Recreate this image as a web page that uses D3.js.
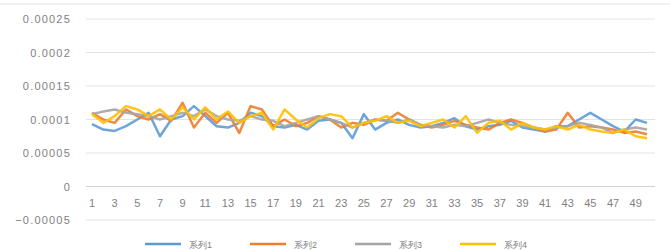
<!DOCTYPE html>
<html>
<head>
<meta charset="utf-8">
<script src="https://cdn.jsdelivr.net/npm/d3@7"></script>
<style>
  body { margin: 0; background: #fff; }
  text { font-family: "Liberation Sans", Arial, sans-serif; fill: #7f7f7f; }
</style>
</head>
<body>
<div id="chart"></div>
<script>
// data
var categories = d3.range(1, 51);
var seriesNames = ["系列1", "系列2", "系列3", "系列4"];
var yTicks = [-0.00005, 0, 0.00005, 0.0001, 0.00015, 0.0002, 0.00025];

var s1 = [0.000093, 0.000085, 0.000083, 0.00009, 0.0001, 0.00011, 0.000075, 0.0001, 0.000105, 0.00012,
          0.000105, 0.00009, 0.000088, 0.000095, 0.00011, 0.000105, 0.00009, 0.000088, 0.000092, 0.000085,
          0.000098, 0.0001, 0.000095, 0.000072, 0.000108, 0.000085, 0.000095, 0.0001, 0.000092, 0.000088,
          0.00009, 0.000095, 0.000102, 0.00009, 0.000085, 0.00009, 0.000092, 0.000098, 0.000088, 0.000085,
          0.000082, 0.00009, 0.00009, 0.0001, 0.00011, 0.0001, 0.00009, 0.000082, 0.0001, 0.000095];
var s2 = [0.00011, 0.0001, 0.000095, 0.000115, 0.000105, 0.0001, 0.000108, 0.000098, 0.000125, 0.000088,
          0.00011, 0.000095, 0.00011, 0.00008, 0.00012, 0.000115, 0.00009, 0.0001, 0.00009, 0.000095,
          0.000105, 0.0001, 0.000088, 0.000095, 0.000092, 0.0001, 0.000098, 0.00011, 0.0001, 0.000092,
          0.000088, 0.000092, 0.000098, 0.000092, 0.000088, 0.000085, 0.000095, 0.0001, 0.000095, 0.000088,
          0.000082, 0.000085, 0.00011, 0.000088, 0.00009, 0.000088, 0.000085, 0.00008, 0.000082, 0.000078];
var s3 = [0.000108, 0.000112, 0.000115, 0.00011, 0.000108, 0.000105, 0.0001, 0.000105, 0.00011, 0.000105,
          0.000115, 0.000105, 0.0001, 0.000098, 0.000105, 0.0001, 0.000098, 0.00009, 0.000095, 0.0001,
          0.000105, 0.0001, 0.000095, 0.000088, 0.000095, 0.0001, 0.000098, 0.000095, 0.0001, 0.000092,
          0.00009, 0.000088, 0.000092, 0.00009, 0.000095, 0.0001, 0.000095, 0.000092, 0.00009, 0.000088,
          0.000085, 0.000088, 0.00009, 0.000095, 0.000092, 0.000088, 0.00008, 0.000085, 0.000088, 0.000085];
var s4 = [0.000108, 0.000095, 0.000105, 0.00012, 0.000115, 0.000105, 0.000115, 0.0001, 0.000118, 0.0001,
          0.000118, 0.0001, 0.000112, 0.000095, 0.000105, 0.00011, 0.000085, 0.000115, 0.0001, 0.000088,
          0.000102, 0.000108, 0.000105, 0.000088, 0.000095, 0.000098, 0.000105, 0.000095, 0.000098, 0.00009,
          0.000095, 0.0001, 0.000088, 0.000105, 0.00008, 0.000095, 0.000098, 0.000085, 0.000095, 0.000088,
          0.000085, 0.00009, 0.000085, 0.000092, 0.000085, 0.000082, 0.00008, 0.000085, 0.000075, 0.000072];

var colors = ["#5B9BD5", "#ED7D31", "#A5A5A5", "#FFC000"];
var allSeries = [s1, s2, s3, s4];

var width = 670, height = 250;
var margin = {top: 19, right: 15, bottom: 30, left: 86};

var svg = d3.select("#chart").append("svg")
    .attr("width", width)
    .attr("height", height);

// top border of chart area
svg.append("line")
  .attr("x1", 0).attr("x2", width)
  .attr("y1", 4).attr("y2", 4)
  .attr("stroke", "#e6e6e6");

var x = d3.scalePoint()
  .domain(categories)
  .range([margin.left + 6, width - margin.right - 8]);

var y = d3.scaleLinear()
  .domain([-0.00005, 0.00025])
  .range([height - margin.bottom, margin.top]);

// gridlines
svg.append("g")
  .selectAll("line")
  .data(yTicks)
  .enter()
  .append("line")
    .attr("x1", margin.left)
    .attr("x2", width - margin.right)
    .attr("y1", function(d) { return y(d); })
    .attr("y2", function(d) { return y(d); })
    .attr("stroke", function(d) { return d === 0 ? "#d0d0d0" : "#e3e3e3"; })
    .attr("stroke-width", 1);

// y labels
svg.append("g")
  .selectAll("text")
  .data(yTicks)
  .enter()
  .append("text")
    .attr("x", margin.left - 15)
    .attr("y", function(d) { return y(d) + 4; })
    .attr("text-anchor", "end")
    .style("font-size", "11px")
    .style("letter-spacing", "1.2px")
    .text(function(d) { return d === 0 ? "0" : d3.format("")(+d.toPrecision(2)); });

// x labels at odd categories
svg.append("g")
  .selectAll("text")
  .data(categories.filter(function(d) { return d % 2 === 1; }))
  .enter()
  .append("text")
    .attr("x", function(d) { return x(d); })
    .attr("y", y(0) + 20)
    .attr("text-anchor", "middle")
    .style("font-size", "11px")
    .text(function(d) { return d; });

// lines
var line = d3.line()
  .x(function(d, i) { return x(categories[i]); })
  .y(function(d) { return y(d); });

svg.append("g")
  .selectAll("path")
  .data(allSeries)
  .enter()
  .append("path")
    .attr("d", line)
    .attr("fill", "none")
    .attr("stroke", function(d, i) { return colors[i]; })
    .attr("stroke-width", 2.5)
    .attr("stroke-linejoin", "round")
    .attr("opacity", 0.9);

// legend
var legend = svg.append("g")
  .selectAll("g")
  .data(seriesNames)
  .enter()
  .append("g")
    .attr("transform", function(d, i) { return "translate(" + (145 + i * 105) + ",0)"; });

legend.append("line")
  .attr("x1", 0).attr("x2", 36)
  .attr("y1", 244).attr("y2", 244)
  .attr("stroke", function(d, i) { return colors[i]; })
  .attr("stroke-width", 2.5);

legend.append("text")
  .attr("x", 44)
  .attr("y", 248)
  .style("font-size", "9px")
  .text(function(d) { return d; });
</script>
</body>
</html>
